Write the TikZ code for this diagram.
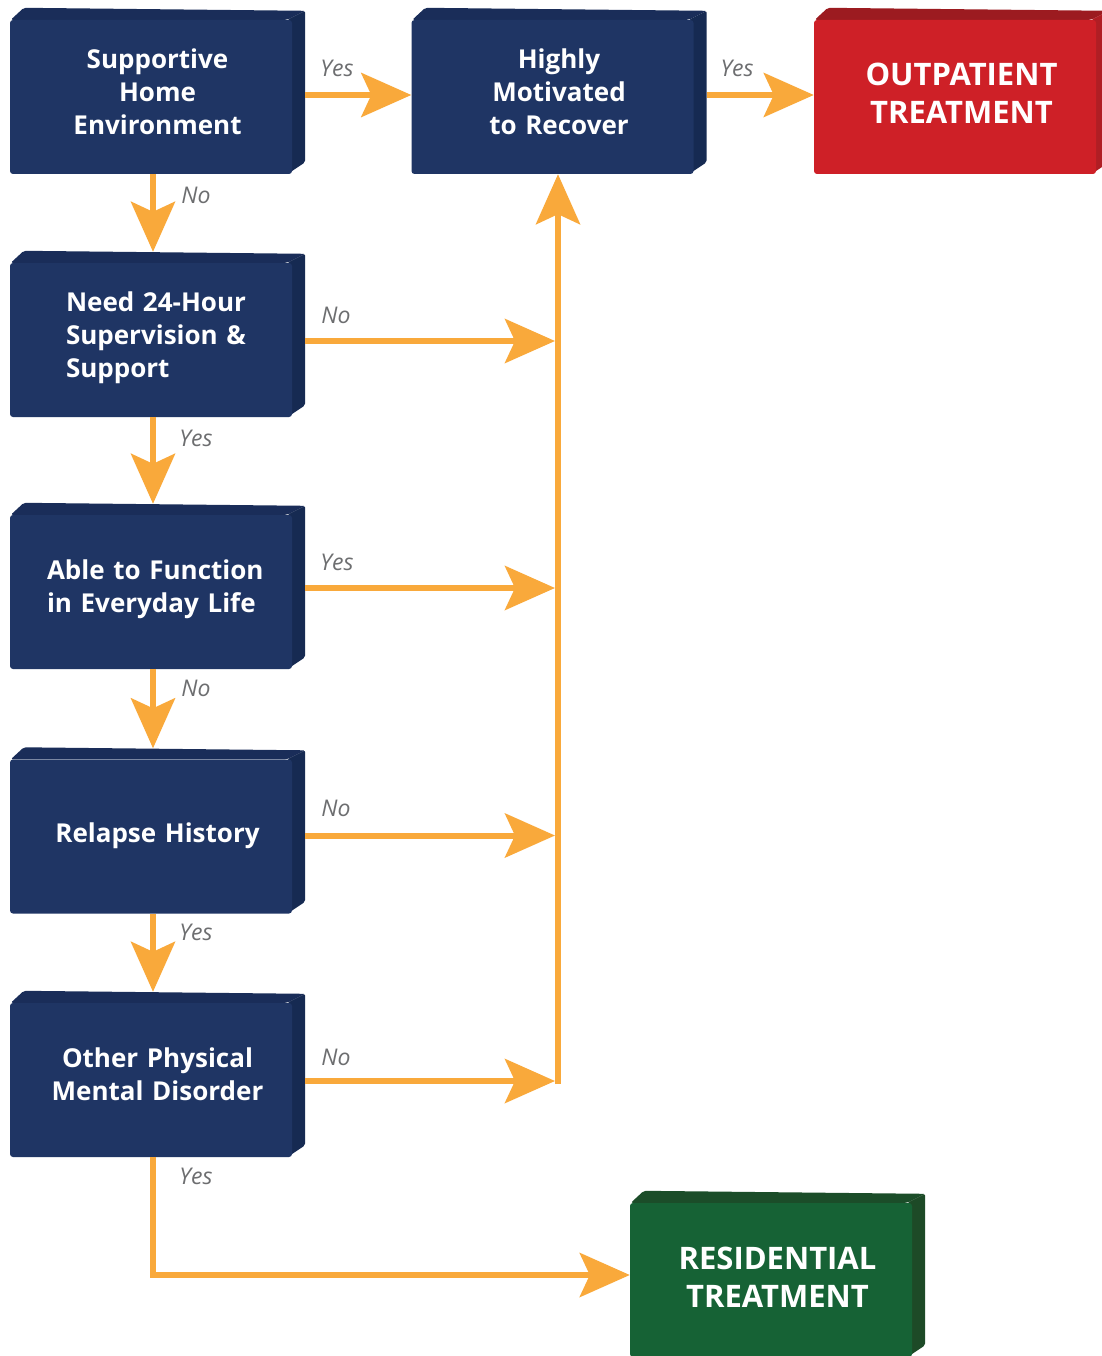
\documentclass[tikz,border=0pt]{standalone}
\usepackage{fontspec}
\setmainfont{Open Sans}
\usetikzlibrary{calc,backgrounds,arrows.meta}
\pgfdeclarelayer{paper}
\pgfsetlayers{paper,background,main}
\definecolor{navy}{HTML}{1F3564}
\definecolor{navyt}{HTML}{1A2D59}
\definecolor{navys}{HTML}{162A52}
\definecolor{redf}{HTML}{CE2027}
\definecolor{redt}{HTML}{9C1B20}
\definecolor{reds}{HTML}{B01E24}
\definecolor{grnf}{HTML}{166235}
\definecolor{grnt}{HTML}{1B4D29}
\definecolor{grns}{HTML}{1D4A27}
\definecolor{org}{HTML}{F9A93B}
\definecolor{lbl}{HTML}{6D6E70}
\newcommand\cubedepth[3]{%
  \fill[#2, rounded corners=2pt] ($(#1.north west)+(1,0)$) -- ++(13,-12) -- ($(#1.north east)+(13,-9)$) -- ($(#1.north east)+(-5,0)$) -- cycle;
  \fill[#3, rounded corners=2pt] ($(#1.north east)+(-5,0)$) -- ($(#1.north east)+(13,-9)$) -- ($(#1.south east)+(13,-12)$) -- ($(#1.south east)+(-5,0)$) -- cycle;
}
\tikzset{
  cube/.style={draw=none, rounded corners=3pt, inner sep=0pt, text width=282pt, minimum height=154pt,
    text=white, font=\bfseries\fontsize{26}{33}\selectfont,
    execute at begin node={\centering\leftskip=13pt plus 1fil\relax}},
  bigcube/.style={cube, font=\bfseries\fontsize{31}{38}\selectfont},
  flushcube/.style={execute at begin node={\raggedright\leftskip=#1\relax}},
  vadj/.style={execute at end node={\par\vspace*{#1}}},
  flow/.style={draw=org, line width=6pt, -{Stealth[length=50pt,width=44pt,inset=10pt]}},
  lab/.style={text=lbl, font=\itshape\fontsize{23}{26}\selectfont, inner sep=0pt}
}
\begin{document}
\begin{tikzpicture}[x=1pt,y=-1pt]
\begin{pgfonlayer}{paper}
\fill[white] (0,0) rectangle (1101,1356);
\end{pgfonlayer}
\useasboundingbox (0,0) rectangle (1101,1356);
% nodes
\node[cube, fill=navy, vadj=10pt] (b1) at (151,97) {Supportive\\Home\\Environment};
\node[cube, fill=navy, vadj=10pt] (b2) at (552.5,97) {Highly\\Motivated\\to Recover};
\node[bigcube, fill=redf, vadj=8pt] (out) at (955,97) {OUTPATIENT\\TREATMENT};
\node[cube, fill=navy, flushcube=56pt, vadj=4pt] (b4) at (151,340) {Need 24-Hour\\Supervision \&\\Support};
\node[cube, fill=navy, flushcube=37pt, vadj=5pt] (b5) at (151,592) {Able to Function\\in Everyday Life};
\node[cube, fill=navy, vadj=2pt] (b6) at (151,836.5) {Relapse History};
\node[cube, fill=navy, vadj=11pt] (b7) at (151,1080) {Other Physical\\Mental Disorder};
\node[bigcube, fill=grnf, vadj=6pt] (res) at (771,1280) {RESIDENTIAL\\TREATMENT};
\begin{scope}[on background layer]
\cubedepth{b1}{navyt}{navys}
\cubedepth{b2}{navyt}{navys}
\cubedepth{out}{redt}{reds}
\cubedepth{b4}{navyt}{navys}
\cubedepth{b5}{navyt}{navys}
\cubedepth{b6}{navyt}{navys}
\cubedepth{b7}{navyt}{navys}
\cubedepth{res}{grnt}{grns}
\end{scope}
% trunk
\coordinate (tb) at (558,1081);
\draw[flow] ($(tb)+(0,3)$) -- (tb |- b2.south);
% connectors
\draw[flow] ($(b1.east)+(13,-2)$) -- ($(b2.west)+(0,-2)$);
\draw[flow] ($(b2.east)+(13,-2)$) -- ($(out.west)+(0,-2)$);
\draw[flow] ($(b1.south)+(2,0)$) -- ($(b4.north)+(2,-11)$);
\draw[flow] ($(b4.south)+(2,0)$) -- ($(b5.north)+(2,-11)$);
\draw[flow] ($(b5.south)+(2,0)$) -- ($(b6.north)+(2,-11)$);
\draw[flow] ($(b6.south)+(2,0)$) -- ($(b7.north)+(2,-11)$);
\draw[flow, shorten >=3pt] ($(b4.east)+(13,1)$) -- ($(b4.east -| tb)+(0,1)$);
\draw[flow, shorten >=3pt] ($(b5.east)+(13,-4)$) -- ($(b5.east -| tb)+(0,-4)$);
\draw[flow, shorten >=3pt] ($(b6.east)+(13,-1)$) -- ($(b6.east -| tb)+(0,-1)$);
\draw[flow, shorten >=3pt] ($(b7.east)+(13,1)$) -- (tb);
\draw[flow] ($(b7.south)+(2,0)$) |- ($(res.west)+(0,-5)$);
% labels
\node[lab] (l1) at (337,68) {Yes};
\node[lab] (l2) at (737,68) {Yes};
\node[lab] (l3) at (196,195) {No};
\node[lab] (l4) at (336,315) {No};
\node[lab] (l5) at (196,438) {Yes};
\node[lab] (l6) at (337,562) {Yes};
\node[lab] (l7) at (196,688) {No};
\node[lab] (l8) at (336,808) {No};
\node[lab] (l9) at (196,932) {Yes};
\node[lab] (l10) at (336,1057) {No};
\node[lab] (l11) at (196,1176) {Yes};
\end{tikzpicture}
\end{document}
